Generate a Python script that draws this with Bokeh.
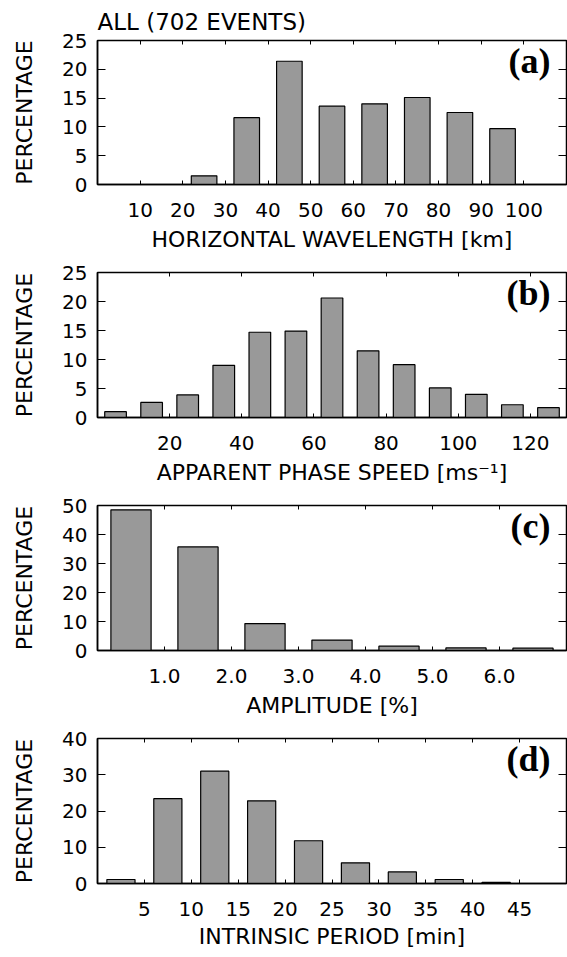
from bokeh.plotting import figure
from bokeh.models import FixedTicker, LinearAxis, Label, Range1d
from bokeh.layouts import column
from bokeh.embed import file_html
from bokeh.resources import INLINE

# ---------------- data ----------------
title_text = "ALL (702 EVENTS)"
ylabel_text = "PERCENTAGE"

# (a) horizontal wavelength
wl_centers = [25, 35, 45, 55, 65, 75, 85, 95]
wl_pct = [1.5, 11.6, 21.4, 13.6, 14.0, 15.1, 12.5, 9.7]
wl_xticks = [10, 20, 30, 40, 50, 60, 70, 80, 90, 100]
wl_xlabels = ["10", "20", "30", "40", "50", "60", "70", "80", "90", "100"]
wl_yticks = [0, 5, 10, 15, 20, 25]
wl_xrange = (0, 110)
wl_yrange = (0, 25)
wl_bin = 10
wl_label = "HORIZONTAL WAVELENGTH [km]"

# (b) apparent phase speed
sp_centers = [5, 15, 25, 35, 45, 55, 65, 75, 85, 95, 105, 115, 125]
sp_pct = [1.0, 2.6, 3.9, 9.0, 14.7, 14.9, 20.6, 11.5, 9.1, 5.1, 4.0, 2.2, 1.7]
sp_xticks = [20, 40, 60, 80, 100, 120]
sp_xlabels = ["20", "40", "60", "80", "100", "120"]
sp_yticks = [0, 5, 10, 15, 20, 25]
sp_xrange = (0, 130)
sp_yrange = (0, 25)
sp_bin = 10
sp_label = "APPARENT PHASE SPEED [ms\u207b\u00b9]"

# (c) amplitude
am_centers = [0.5, 1.5, 2.5, 3.5, 4.5, 5.5, 6.5]
am_pct = [48.5, 35.7, 9.3, 3.6, 1.5, 0.9, 0.8]
am_xticks = [1, 2, 3, 4, 5, 6]
am_xlabels = ["1.0", "2.0", "3.0", "4.0", "5.0", "6.0"]
am_yticks = [0, 10, 20, 30, 40, 50]
am_xrange = (0, 7)
am_yrange = (0, 50)
am_bin = 1
am_label = "AMPLITUDE [%]"

# (d) intrinsic period
pe_centers = [2.5, 7.5, 12.5, 17.5, 22.5, 27.5, 32.5, 37.5, 42.5]
pe_pct = [1.1, 23.4, 31.0, 22.8, 11.8, 5.7, 3.2, 1.1, 0.3]
pe_xticks = [5, 10, 15, 20, 25, 30, 35, 40, 45]
pe_xlabels = ["5", "10", "15", "20", "25", "30", "35", "40", "45"]
pe_yticks = [0, 10, 20, 30, 40]
pe_xrange = (0, 50)
pe_yrange = (0, 40)
pe_bin = 5
pe_label = "INTRINSIC PERIOD [min]"

# ---------------- style ----------------
FONT = "DejaVu Sans"
BAR_FILL = "#999999"
BAR_FRAC = 0.6


def panel(centers, pct, binw, xr, yr, xticks, xlabels, yticks, xlabel, tag,
          height, top, bottom, xlab_standoff, title=None):
    p = figure(width=567, height=height,
               x_range=Range1d(*xr), y_range=Range1d(*yr),
               output_backend="svg", toolbar_location=None,
               min_border_left=97, min_border_right=1,
               min_border_top=top, min_border_bottom=bottom,
               title=title)
    p.background_fill_color = "white"
    p.border_fill_color = "white"
    p.outline_line_color = "black"
    p.outline_line_width = 1.5
    p.xgrid.visible = False
    p.ygrid.visible = False

    p.vbar(x=centers, top=pct, bottom=0, width=binw * BAR_FRAC,
           fill_color=BAR_FILL, line_color="black", line_width=1.2)

    xa = p.xaxis[0]
    xa.ticker = FixedTicker(ticks=xticks)
    xa.major_label_overrides = {t: l for t, l in zip(xticks, xlabels)}
    xa.major_tick_in = 4
    xa.major_tick_out = 0
    xa.minor_tick_line_color = None
    xa.axis_line_color = "black"
    xa.axis_line_width = 1.5
    xa.major_tick_line_color = "black"
    xa.major_label_standoff = 18
    xa.major_label_text_font = FONT
    xa.major_label_text_font_size = "20px"
    xa.major_label_text_color = "black"
    xa.axis_label = xlabel
    xa.axis_label_text_font = FONT
    xa.axis_label_text_font_size = "22px"
    xa.axis_label_text_font_style = "normal"
    xa.axis_label_text_color = "black"
    xa.axis_label_standoff = xlab_standoff

    ya = p.yaxis[0]
    ya.ticker = FixedTicker(ticks=yticks)
    ya.major_tick_in = 8
    ya.major_tick_out = 0
    ya.minor_tick_line_color = None
    ya.axis_line_color = "black"
    ya.axis_line_width = 1.5
    ya.major_label_standoff = 10
    ya.major_label_text_font = FONT
    ya.major_label_text_font_size = "20px"
    ya.major_label_text_color = "black"
    ya.axis_label = ylabel_text
    ya.axis_label_text_font = FONT
    ya.axis_label_text_font_size = "22px"
    ya.axis_label_text_font_style = "normal"
    ya.axis_label_text_color = "black"
    ya.axis_label_standoff = 22

    top_ax = LinearAxis(ticker=FixedTicker(ticks=xticks), major_tick_in=4,
                        major_tick_out=0, major_label_text_font_size="0px",
                        major_label_text_color=None,
                        major_label_standoff=0, axis_line_color=None,
                        minor_tick_line_color=None)
    p.add_layout(top_ax, "above")
    right_ax = LinearAxis(ticker=FixedTicker(ticks=yticks), major_tick_in=8,
                          major_tick_out=0, major_label_text_font_size="0px",
                          major_label_text_color=None,
                          major_label_standoff=0, axis_line_color=None,
                          minor_tick_line_color=None)
    p.add_layout(right_ax, "right")

    p.add_layout(Label(x=xr[1], y=yr[1], x_offset=-16, y_offset=0,
                       text=tag, text_align="right", text_baseline="top",
                       text_font="Liberation Serif", text_font_style="bold",
                       text_font_size="36px", text_color="black"))

    if title is not None:
        p.title.text_font = FONT
        p.title.text_font_size = "23px"
        p.title.text_font_style = "normal"
        p.title.text_color = "black"
        p.title.align = "left"
        p.title.standoff = 12
    return p


pa = panel(wl_centers, wl_pct, wl_bin, wl_xrange, wl_yrange, wl_xticks, wl_xlabels,
           wl_yticks, wl_label, "(a)", 258, 39, 74, 7, title=title_text)
pb = panel(sp_centers, sp_pct, sp_bin, sp_xrange, sp_yrange, sp_xticks, sp_xlabels,
           sp_yticks, sp_label, "(b)", 233, 14, 74, 7)
pc = panel(am_centers, am_pct, am_bin, am_xrange, am_yrange, am_xticks, am_xlabels,
           am_yticks, am_label, "(c)", 233, 14, 74, 7)
pd = panel(pe_centers, pe_pct, pe_bin, pe_xrange, pe_yrange, pe_xticks, pe_xlabels,
           pe_yticks, pe_label, "(d)", 231, 14, 72, 5)

layout = column(pa, pb, pc, pd, spacing=0)
open("out.html", "w").write(file_html(layout, INLINE))
